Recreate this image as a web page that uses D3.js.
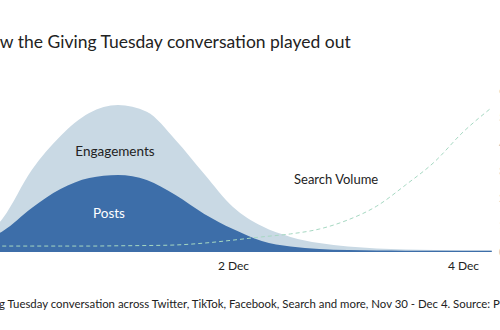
<!DOCTYPE html>
<html>
<head>
<meta charset="utf-8">
<script src="https://cdn.jsdelivr.net/npm/d3@7"></script>
<style>
  html, body { margin: 0; padding: 0; background: #fff; }
  svg { display: block; font-family: Lato, "Open Sans", sans-serif; }
</style>
</head>
<body>
<svg id="chart" width="500" height="330"></svg>
<script>
// Six-hourly readings, Nov 29 18:00 to Dec 4 06:00
const times = [
  "2020-11-29T18:00", "2020-11-30T00:00", "2020-11-30T06:00", "2020-11-30T12:00",
  "2020-11-30T18:00", "2020-12-01T00:00", "2020-12-01T06:00", "2020-12-01T12:00",
  "2020-12-01T18:00", "2020-12-02T00:00", "2020-12-02T06:00", "2020-12-02T12:00",
  "2020-12-02T18:00", "2020-12-03T00:00", "2020-12-03T06:00", "2020-12-03T12:00",
  "2020-12-03T18:00", "2020-12-04T00:00", "2020-12-04T06:00"
];
const engagements = [2.2, 12.6, 30.4, 43.0, 51.5, 54.4, 51.9, 41.5, 28.9, 16.7, 9.6, 5.6, 3.3, 2.0, 1.3, 0.9, 0.7, 0.6, 0.55];
const posts       = [3.3, 7.8, 16.3, 23.3, 27.4, 28.5, 26.7, 21.1, 14.1, 8.5, 4.1, 2.0, 1.1, 0.7, 0.55, 0.5, 0.5, 0.5, 0.5];
const searchVolume = [2.0, 2.2, 2.2, 2.2, 2.2, 2.3, 2.4, 2.6, 3.3, 4.4, 5.6, 6.7, 8.5, 11.9, 17.0, 24.8, 33.3, 44.4, 53.5];

const xTickDates = ["2020-12-02T00:00", "2020-12-04T00:00"];
const xTickLabels = ["2 Dec", "4 Dec"];
const yTicks = [0, 10, 20, 30, 40, 50, 60];

const titleText = "How the Giving Tuesday conversation played out";
const footerText = "Volume of the Giving Tuesday conversation across Twitter, TikTok, Facebook, Search and more, Nov 30 - Dec 4. Source: Pulsar";

const parse = d3.timeParse("%Y-%m-%dT%H:%M");
const dates = times.map(parse);

const svg = d3.select("#chart");

const x = d3.scaleTime()
  .domain([parse("2020-11-30T00:00"), parse("2020-12-04T00:00")])
  .range([3, 463]);
const y = d3.scaleLinear().domain([0, 60]).range([252, 90]);

const rows = dates.map((d, i) => ({ d, e: engagements[i], p: posts[i], s: searchVolume[i] }));

const areaOf = key => d3.area()
  .curve(d3.curveMonotoneX)
  .x(r => x(r.d))
  .y0(y(0))
  .y1(r => y(r[key]));

// Engagements behind, posts in front
svg.append("path").datum(rows).attr("d", areaOf("e")).attr("fill", "#c9d9e4");
svg.append("path").datum(rows).attr("d", areaOf("p")).attr("fill", "#3d6ea9");

// Search volume trend
svg.append("path").datum(rows)
  .attr("d", d3.line().curve(d3.curveMonotoneX).x(r => x(r.d)).y(r => y(r.s)))
  .attr("fill", "none")
  .attr("stroke", "#a6d8c2")
  .attr("stroke-width", 1)
  .attr("stroke-dasharray", "4,3");

// Bottom axis
const xAxis = d3.axisBottom(x)
  .tickValues(xTickDates.map(parse))
  .tickFormat((d, i) => xTickLabels[i])
  .tickSize(0)
  .tickPadding(9);
const gx = svg.append("g").attr("transform", `translate(0,${y(0)})`).call(xAxis);
gx.select(".domain").remove();
gx.selectAll("text").attr("font-size", 12).attr("fill", "#222").attr("font-family", "Lato, sans-serif");

// Right axis (runs off the edge)
const yAxis = d3.axisRight(y).tickValues(yTicks).tickSize(0).tickPadding(0);
const gy = svg.append("g").attr("transform", "translate(499,0)").call(yAxis);
gy.select(".domain").remove();
gy.selectAll("text").attr("font-size", 11).attr("fill", "#bbb").attr("font-family", "Lato, sans-serif");

// Series labels
svg.append("text").attr("x", 115).attr("y", 156).attr("text-anchor", "middle")
  .attr("font-size", 13.5).attr("fill", "#222").text("Engagements");
svg.append("text").attr("x", 109).attr("y", 218).attr("text-anchor", "middle")
  .attr("font-size", 13.5).attr("fill", "#fff").text("Posts");
svg.append("text").attr("x", 294).attr("y", 184)
  .attr("font-size", 13).attr("fill", "#222").text("Search Volume");

// Title and footer, with their opening words running past the left edge
function widthOf(str, size) {
  const t = svg.append("text").attr("font-size", size).text(str);
  const w = t.node().getComputedTextLength();
  t.remove();
  return w;
}
svg.append("text")
  .attr("x", -widthOf("Ho", 17.5))
  .attr("y", 48)
  .attr("font-size", 17.5)
  .attr("fill", "#222")
  .text(titleText);
svg.append("text")
  .attr("x", -widthOf("Volume of the Givin", 11.4) - 1)
  .attr("y", 308)
  .attr("font-size", 11.4)
  .attr("fill", "#222")
  .text(footerText);
</script>
</body>
</html>
